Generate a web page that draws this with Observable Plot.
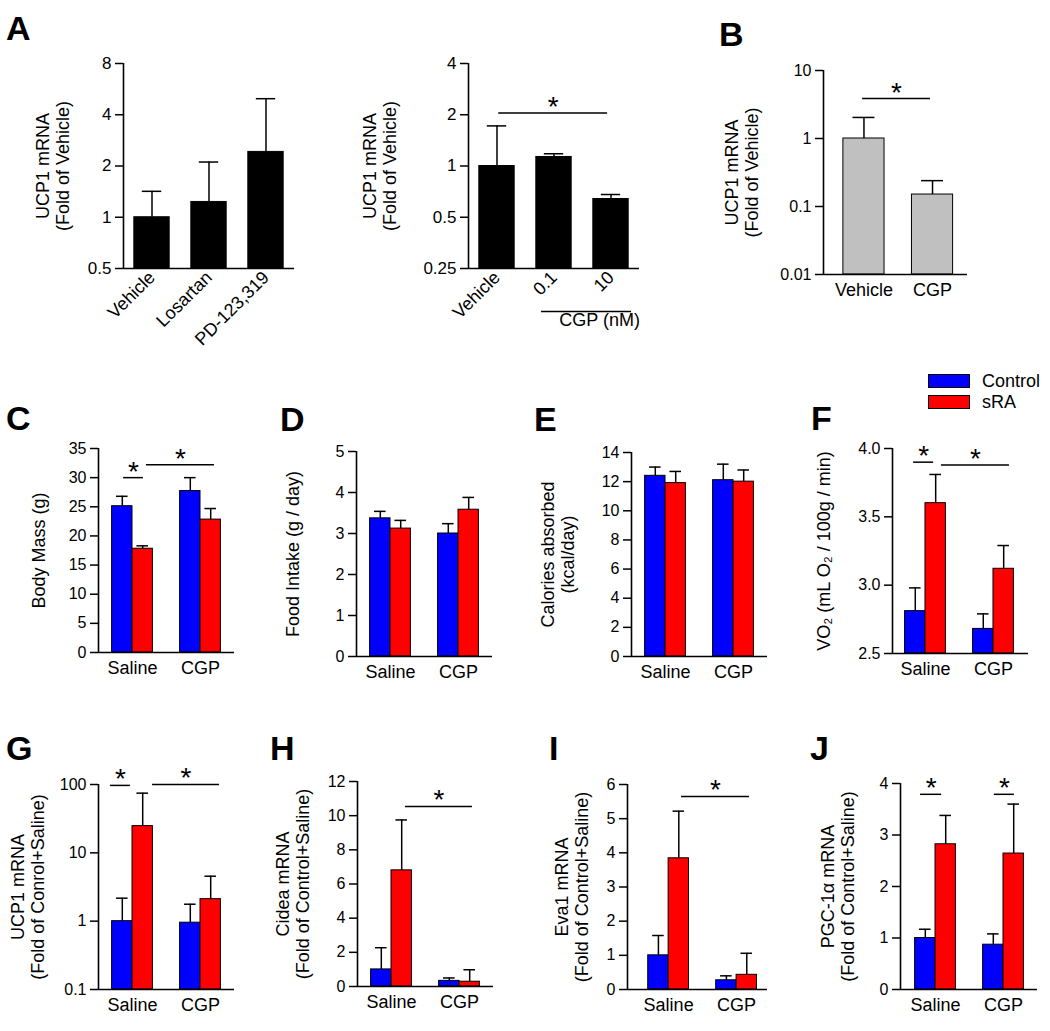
<!DOCTYPE html>
<html><head><meta charset="utf-8">
<script src="https://cdn.jsdelivr.net/npm/d3@7"></script>
<script src="https://cdn.jsdelivr.net/npm/@observablehq/plot@0.6"></script>
<style>
body{margin:0;background:#fff;}
#fig{position:relative;width:1050px;height:1031px;overflow:hidden;background:#fff;font-family:"Liberation Sans",Arial,Helvetica,sans-serif;color:#000;}
.panel{position:absolute;}
.letter{position:absolute;font-weight:bold;font-size:34px;line-height:34px;}
.leg{position:absolute;font-size:18px;line-height:18px;}
.sw{position:absolute;width:42px;height:14px;border:1px solid #000;box-sizing:border-box;}
</style></head>
<body><div id="fig"></div>
<script>
// ---------------- DATA ----------------
// Panel A (left): antagonists
const aLeftCats = ["Vehicle", "Losartan", "PD-123,319"];
const aLeftMean = [1, 1.23, 2.42];
const aLeftErrTop = [1.42, 2.11, 4.97];
const aLeftTicks = [0.5, 1, 2, 4, 8];
// Panel A (right): CGP dose
const aRightCats = ["Vehicle", "0.1", "10"];
const aRightMean = [1, 1.13, 0.64];
const aRightErrTop = [1.72, 1.18, 0.68];
const aRightTicks = [0.25, 0.5, 1, 2, 4];
// Panel B
const bCats = ["Vehicle", "CGP"];
const bMean = [1, 0.15];
const bErrTop = [2.04, 0.24];
const bTicks = [0.01, 0.1, 1, 10];
// Grouped panels: order = Saline/Control, Saline/sRA, CGP/Control, CGP/sRA
const groups = ["Saline", "CGP"];
const seriesNames = ["Control", "sRA"];
const cMean = [25.1, 17.8, 27.7, 22.8];
const cErrTop = [26.8, 18.3, 30.0, 24.7];
const cTicks = [0, 5, 10, 15, 20, 25, 30, 35];
const dMean = [3.37, 3.12, 3.0, 3.58];
const dErrTop = [3.54, 3.32, 3.24, 3.88];
const dTicks = [0, 1, 2, 3, 4, 5];
const eMean = [12.4, 11.9, 12.1, 12.0];
const eErrTop = [13.0, 12.7, 13.2, 12.8];
const eTicks = [0, 2, 4, 6, 8, 10, 12, 14];
const fMean = [2.81, 3.60, 2.68, 3.12];
const fErrTop = [2.98, 3.81, 2.79, 3.29];
const fTicks = [2.5, 3.0, 3.5, 4.0];
const gMean = [1.0, 24.6, 0.95, 2.1];
const gErrTop = [2.17, 74.7, 1.77, 4.55];
const gTicks = [0.1, 1, 10, 100];
const hMean = [1.0, 6.8, 0.33, 0.28];
const hErrTop = [2.27, 9.75, 0.5, 0.98];
const hTicks = [0, 2, 4, 6, 8, 10, 12];
const iMean = [1.0, 3.84, 0.27, 0.43];
const iErrTop = [1.58, 5.22, 0.4, 1.06];
const iTicks = [0, 1, 2, 3, 4, 5, 6];
const jMean = [1.0, 2.82, 0.87, 2.64];
const jErrTop = [1.17, 3.38, 1.08, 3.6];
const jTicks = [0, 1, 2, 3, 4];

// ---------------- STYLE / HELPERS ----------------
const FONT = '"Liberation Sans", Arial, Helvetica, sans-serif';
const BLUE = "#0000ff", RED = "#ff0000", GRAY = "#c0c0c0", BLACK = "#000000";
const ML = 120, MR = 20, MT = 45, MB = 90;
const fig = document.getElementById("fig");

function singleBars(means, tops, fill, half) {
  return means.map((v, i) => ({x1: i + 0.5 - half, x2: i + 0.5 + half, v, e: tops[i], fill}));
}
function groupedBars(means, tops, w = 0.6) {
  return means.map((v, i) => {
    const g = Math.floor(i / 2), s = i % 2, c = 1 + 2 * g;
    return {x1: s === 0 ? c - w : c, x2: s === 0 ? c : c + w, v, e: tops[i], fill: s === 0 ? BLUE : RED,
            group: groups[g], series: seriesNames[s]};
  });
}

function panel(o) {
  const ymin = o.yDomain[0];
  const capHalf = o.cap ?? 0.17;
  const mid = d => (d.x1 + d.x2) / 2;
  const labelMap = new Map(o.labelPos.map((p, i) => [p, o.labels[i]]));
  const sig = o.sig || [];
  const marks = [
    Plot.rect(o.bars, {x1: "x1", x2: "x2", y1: () => ymin, y2: "v", fill: "fill", stroke: BLACK, strokeWidth: 1}),
    Plot.ruleX(o.bars, {x: mid, y1: "v", y2: "e", stroke: BLACK, strokeWidth: 1.5}),
    Plot.ruleY(o.bars, {y: "e", x1: d => mid(d) - capHalf, x2: d => mid(d) + capHalf, stroke: BLACK, strokeWidth: 1.5}),
    Plot.ruleX([o.xDomain[0]], {stroke: BLACK, strokeWidth: 1.6}),
    Plot.ruleY([ymin], {stroke: BLACK, strokeWidth: 1.6}),
    Plot.axisY({ticks: o.ticks, tickFormat: o.tickFormat || (d => String(d)), tickSize: 8, tickPadding: 4,
                fontSize: o.tickFont ?? 16, label: null, strokeWidth: 1.5}),
    Plot.axisX({ticks: o.labelPos, tickFormat: d => labelMap.get(d), tickSize: 0, tickPadding: o.tickPad ?? 9,
                fontSize: 18, tickRotate: o.rotate || 0, label: null}),
    Plot.text([o.ylabel], {text: d => d, frameAnchor: "left", textAnchor: "middle", rotate: -90, dx: -o.yOff,
                fontSize: 18, lineHeight: 1.12}),
    Plot.ruleY(sig, {y: "y", x1: "x1", x2: "x2", stroke: BLACK, strokeWidth: 1.5}),
    Plot.text(sig, {x: d => (d.x1 + d.x2) / 2, y: "y", text: () => "*", fontSize: 28, dy: -6}),
    ...(o.extra || [])
  ];
  const yOpt = {domain: o.yDomain};
  if (o.yType) { yOpt.type = o.yType; yOpt.base = o.base; }
  const svg = Plot.plot({
    width: ML + o.w + MR, height: MT + o.h + MB,
    marginLeft: ML, marginRight: MR, marginTop: MT, marginBottom: MB,
    x: {domain: o.xDomain},
    y: yOpt,
    color: {type: "identity"},
    style: {fontFamily: FONT, fontSize: "16px", background: "none", overflow: "visible", color: BLACK, maxWidth: "none"},
    marks
  });
  const div = document.createElement("div");
  div.className = "panel";
  div.style.left = (o.x0 - ML) + "px";
  div.style.top = (o.y0 - MT) + "px";
  div.appendChild(svg);
  fig.appendChild(div);
}

function letter(t, x, capTop) {
  const d = document.createElement("div");
  d.className = "letter";
  d.textContent = t;
  d.style.left = (x - 2) + "px";
  d.style.top = (capTop - 4.5) + "px";
  fig.appendChild(d);
}

// ---------------- PANELS ----------------
// A left
panel({x0: 123, y0: 63, w: 171, h: 205, xDomain: [0, 3], yDomain: [0.5, 8], yType: "log", base: 2,
  ticks: aLeftTicks, tickFont: 17, bars: singleBars(aLeftMean, aLeftErrTop, BLACK, 0.31), cap: 0.17,
  labelPos: [0.5, 1.5, 2.5], labels: aLeftCats, rotate: -45, tickPad: 6,
  ylabel: "UCP1 mRNA\n(Fold of Vehicle)", yOff: 71});
// A right
panel({x0: 468, y0: 63, w: 171, h: 205, xDomain: [0, 3], yDomain: [0.25, 4], yType: "log", base: 2,
  ticks: aRightTicks, tickFont: 17, bars: singleBars(aRightMean, aRightErrTop, BLACK, 0.31), cap: 0.17,
  labelPos: [0.5, 1.5, 2.5], labels: aRightCats, rotate: -45, tickPad: 6,
  ylabel: "UCP1 mRNA\n(Fold of Vehicle)", yOff: 89,
  sig: [{x1: 0.53, x2: 2.44, y: 2.05}],
  extra: [
    Plot.ruleY([0.25], {x1: 1.28, x2: 2.86, dy: 43, stroke: BLACK, strokeWidth: 1.5}),
    Plot.text([{x: 2.3, t: "CGP (nM)"}], {x: "x", text: "t", frameAnchor: "bottom", dy: 57, fontSize: 18})
  ]});
// B
panel({x0: 823, y0: 70, w: 144, h: 204, xDomain: [-0.09, 2.01], yDomain: [0.01, 10], yType: "log", base: 10,
  ticks: bTicks, bars: singleBars(bMean, bErrTop, GRAY, 0.3), cap: 0.16,
  labelPos: [0.5, 1.5], labels: bCats, tickPad: 9,
  ylabel: "UCP1 mRNA\n(Fold of Vehicle)", yOff: 82,
  sig: [{x1: 0.48, x2: 1.47, y: 3.87}]});
// C
panel({x0: 98, y0: 448, w: 136, h: 204, xDomain: [0, 4], yDomain: [0, 35], ticks: cTicks,
  bars: groupedBars(cMean, cErrTop), labelPos: [1, 3], labels: groups,
  ylabel: "Body Mass (g)", yOff: 60,
  sig: [{x1: 0.74, x2: 1.32, y: 30.0}, {x1: 1.41, x2: 3.41, y: 32.2}]});
// D
panel({x0: 356, y0: 451, w: 136, h: 205, xDomain: [0, 4], yDomain: [0, 5], ticks: dTicks,
  bars: groupedBars(dMean, dErrTop), labelPos: [1, 3], labels: groups,
  ylabel: "Food Intake (g / day)", yOff: 64});
// E
panel({x0: 631, y0: 452, w: 136, h: 204, xDomain: [0, 4], yDomain: [0, 14], ticks: eTicks,
  bars: groupedBars(eMean, eErrTop), labelPos: [1, 3], labels: groups,
  ylabel: "Calories absorbed\n(kcal/day)", yOff: 74});
// F
panel({x0: 892, y0: 448, w: 136, h: 205, xDomain: [0.03, 4.03], yDomain: [2.5, 4.0], ticks: fTicks,
  tickFormat: d3.format(".1f"),
  bars: groupedBars(fMean, fErrTop), labelPos: [1, 3], labels: groups,
  ylabel: "VO\u2082 (mL O\u2082 / 100g / min)", yOff: 69,
  sig: [{x1: 0.65, x2: 1.24, y: 3.90}, {x1: 1.47, x2: 3.47, y: 3.88}]});
// G
panel({x0: 98, y0: 784, w: 136, h: 205, xDomain: [0, 4], yDomain: [0.1, 100], yType: "log", base: 10, ticks: gTicks,
  bars: groupedBars(gMean, gErrTop), labelPos: [1, 3], labels: groups,
  ylabel: "UCP1 mRNA\n(Fold of Conrol+Saline)", yOff: 71,
  sig: [{x1: 0.35, x2: 0.94, y: 97}, {x1: 1.59, x2: 3.56, y: 100}]});
// H
panel({x0: 357, y0: 781, w: 136, h: 205, xDomain: [0, 4], yDomain: [0, 12], ticks: hTicks,
  bars: groupedBars(hMean, hErrTop), labelPos: [1, 3], labels: groups,
  ylabel: "Cidea mRNA\n(Fold of Control+Saline)", yOff: 65,
  sig: [{x1: 1.41, x2: 3.38, y: 10.54}]});
// I
panel({x0: 627, y0: 784, w: 140, h: 205, xDomain: [-0.21, 3.91], yDomain: [0, 6], ticks: iTicks,
  bars: groupedBars(iMean, iErrTop), labelPos: [1, 3], labels: groups,
  ylabel: "Eva1 mRNA\n(Fold of Control+Saline)", yOff: 56,
  sig: [{x1: 1.38, x2: 3.38, y: 5.65}]});
// J
panel({x0: 900, y0: 783, w: 137, h: 206, xDomain: [-0.03, 4.0], yDomain: [0, 4], ticks: jTicks,
  bars: groupedBars(jMean, jErrTop), labelPos: [1, 3], labels: groups,
  ylabel: "PGC-1\u03b1 mRNA\n(Fold of Control+Saline)", yOff: 63,
  sig: [{x1: 0.56, x2: 1.18, y: 3.79}, {x1: 2.73, x2: 3.32, y: 3.79}]});

// ---------------- LETTERS ----------------
letter("A", 8, 15);
letter("B", 721, 21);
letter("C", 8, 405);
letter("D", 282, 406);
letter("E", 536, 406);
letter("F", 813, 405);
letter("G", 8, 735);
letter("H", 272, 735);
letter("I", 551, 735);
letter("J", 812, 735);

// ---------------- LEGEND ----------------
const legendColors = [BLUE, RED];
seriesNames.forEach((name, i) => {
  const sw = document.createElement("div");
  sw.className = "sw";
  sw.style.left = "928px";
  sw.style.top = (374 + i * 21) + "px";
  sw.style.background = legendColors[i];
  fig.appendChild(sw);
  const t = document.createElement("div");
  t.className = "leg";
  t.textContent = name;
  t.style.left = "982px";
  t.style.top = (372 + i * 21) + "px";
  fig.appendChild(t);
});
</script></body></html>
